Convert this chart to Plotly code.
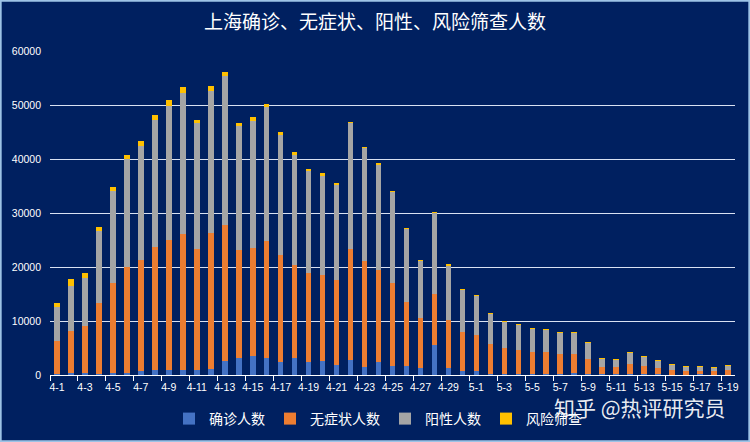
import plotly.graph_objects as go

dates = ["4-1","4-2","4-3","4-4","4-5","4-6","4-7","4-8","4-9","4-10",
         "4-11","4-12","4-13","4-14","4-15","4-16","4-17","4-18","4-19","4-20",
         "4-21","4-22","4-23","4-24","4-25","4-26","4-27","4-28","4-29","4-30",
         "5-1","5-2","5-3","5-4","5-5","5-6","5-7","5-8","5-9","5-10",
         "5-11","5-12","5-13","5-14","5-15","5-16","5-17","5-18","5-19"]

confirmed = [260, 438, 425, 268, 311, 322, 824, 1015, 1006, 914,
             994, 1189, 2573, 3200, 3590, 3238, 2417, 3084, 2494, 2634,
             1931, 2736, 1401, 2472, 1661, 1606, 1292, 5487, 1249, 788,
             727, 274, 260, 261, 245, 253, 215, 322, 234, 228,
             144, 227, 194, 166, 69, 77, 96, 82, 88]

asymptomatic = [6051, 7788, 8581, 13086, 16766, 19660, 20398, 22609, 23937, 25173,
                22348, 25141, 25146, 19872, 19923, 21582, 19831, 17332, 16407, 15861,
                15698, 20634, 19657, 16983, 15319, 11956, 9330, 9545, 8932, 7084,
                6606, 5395, 4722, 4390, 4024, 3961, 3760, 3625, 2780, 1259,
                1305, 1869, 1487, 1203, 869, 746, 727, 637, 770]

positive = [6311, 8226, 9006, 13354, 17077, 19982, 21222, 23624, 24943, 26087,
            23342, 26330, 27719, 23072, 23513, 24820, 22248, 20416, 18901, 18495,
            17629, 23370, 21058, 19455, 16980, 13562, 10622, 15032, 10181, 7872,
            7333, 5669, 4982, 4651, 4269, 4214, 3975, 3947, 3014, 1487,
            1449, 2096, 1681, 1369, 938, 823, 823, 719, 858]

screening = [800, 1400, 860, 740, 730, 840, 925, 960, 1100, 1220,
             600, 900, 730, 590, 810, 620, 430, 520, 220, 360,
             170, 60, 50, 250, 40, 30, 20, 30, 20, 20,
             20, 20, 10, 10, 10, 10, 10, 10, 10, 10,
             10, 10, 10, 10, 10, 10, 10, 10, 10]

series = [
    ("确诊人数", confirmed, "#4472C4"),
    ("无症状人数", asymptomatic, "#ED7D31"),
    ("阳性人数", positive, "#A5A5A5"),
    ("风险筛查", screening, "#FFC000"),
]

BG = "#002060"
FONT = "Noto Sans CJK SC"

fig = go.Figure()
for name, vals, color in series:
    fig.add_trace(go.Bar(x=dates, y=vals, name=name, marker=dict(color=color, line=dict(width=0))))

W, H = 750, 442
L, R, T, B = 50, 15, 51, 67
pw, ph = W - L - R, H - T - B

fig.update_layout(
    width=W, height=H,
    barmode="stack", bargap=0.6,
    paper_bgcolor=BG, plot_bgcolor=BG,
    margin=dict(l=L, r=R, t=T, b=B, autoexpand=False),
    font=dict(family=FONT, color="white"),
    title=dict(text="上海确诊、无症状、阳性、风险筛查人数", x=0.5, xanchor="center", xref="container",
               y=1 - 22 / H, yanchor="middle", yref="container",
               font=dict(size=19, color="white", family=FONT)),
    showlegend=True,
    legend=dict(orientation="h", xref="container", yref="container",
                x=378 / W, xanchor="center", y=1 - 419 / H, yanchor="middle",
                font=dict(size=14, color="white", family=FONT), itemwidth=30,
                bgcolor="rgba(0,0,0,0)", traceorder="normal"),
    xaxis=dict(type="category", tickson="boundaries", dtick=2, tick0=0,
               ticks="outside", ticklen=5, tickcolor="white", tickwidth=1,
               showline=True, linecolor="white", linewidth=1,
               showgrid=False, tickangle=0, ticklabelstandoff=2,
               tickfont=dict(size=10.5, color="white", family="Liberation Sans")),
    yaxis=dict(range=[0, 60000], dtick=10000, showgrid=True, gridcolor="#D9E1F2", gridwidth=1,
               zeroline=False, showline=False, ticks="",
               tickformat="d", ticklabelstandoff=8,
               tickfont=dict(size=10.5, color="white", family="Liberation Sans")),
)

fig.add_shape(type="rect", xref="paper", yref="paper",
              x0=-L / pw + 0.001, x1=1 + R / pw - 0.001,
              y0=-B / ph + 0.002, y1=1 + T / ph - 0.002,
              line=dict(color="#9DC3E6", width=2), fillcolor="rgba(0,0,0,0)", layer="above")

fig.add_annotation(text="知乎 @热评研究员", xref="paper", yref="paper",
                   x=(640 - L) / pw, y=-(407 - (H - B)) / ph, xanchor="center", yanchor="middle",
                   showarrow=False, font=dict(size=21, color="rgba(255,255,255,0.92)", family=FONT))

fig.write_html("out.html", config={"displayModeBar": False},
               post_script="document.body.style.margin='0px';document.body.style.overflow='hidden';")
